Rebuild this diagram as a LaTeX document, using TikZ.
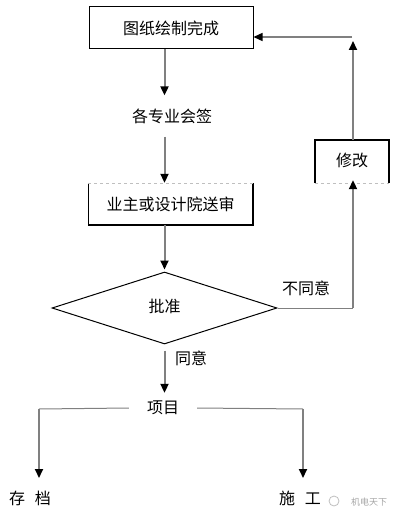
\documentclass[tikz,border=0pt]{standalone}
\usepackage{fontspec}
\setmainfont{Noto Sans CJK SC}
\usetikzlibrary{arrows.meta,shapes.geometric}
\begin{document}
\begin{tikzpicture}[x=1pt,y=-1pt,
  txt/.style={font=\fontsize{16}{19}\selectfont, inner sep=0pt},
  box/.style={txt, minimum width=164pt, minimum height=42pt},
  conn/.style={draw=black!50, line width=1pt},
  arr/.style={draw=black!50, line width=2pt, -{Triangle[length=9pt,width=8pt,color=black]}},
  harr/.style={draw=black!50, line width=1.4pt, -{Triangle[length=9pt,width=8pt,color=black]}},
  edgeline/.style={draw=black, line width=1.6pt},
  faint/.style={draw=black!25, line width=0.5pt, dashed}
]
\useasboundingbox (0,0) rectangle (400,518);
\coordinate (col) at (164.5,0);

% boxes and nodes
\node[box, draw=black, line width=1pt] (done) at (171,28) {图纸绘制完成};
\node[txt, inner ysep=13pt] (sign) at (172,116) {各专业会签};
\node[box] (review) at (170.5,204) {业主或设计院送审};
\draw[edgeline] (review.north west) -- (review.south west) -- (review.south east) -- (review.north east);
\draw[faint] (review.north west) -- (review.north east);
\node[diamond, draw=black, line width=1pt, txt, minimum width=225pt, minimum height=72pt] (approve) at (164.5,308) {\raisebox{4pt}{批准}};
\node[txt, minimum width=74pt, minimum height=43pt] (fix) at (352,161.5) {\raisebox{3pt}{修改}};
\draw[edgeline] (fix.south west) -- (fix.north west) -- (fix.north east) -- (fix.south east);
\draw[faint] (fix.south west) -- (fix.south east);
\node[txt, inner xsep=18pt, inner ysep=8pt] (proj) at (163,408) {项目};
\node[txt] (store) at (30,498) {存\hspace{0.6em}档};
\node[txt] (build) at (300,498) {施\hspace{0.6em}工};
\node[txt] at (306,288) {不同意};
\node[txt] at (191,358) {同意};

% watermark
\draw[black!25, line width=0.8pt] (334,501) circle (5pt);
\node[font=\fontsize{9}{10}\selectfont, text=black!35, inner sep=0pt] (wm) at (369,502) {机电天下};

% main flow
\draw[arr] (done.south -| col) -- (sign.north -| col);
\draw[arr] (sign.south -| col) -- (review.north -| col);
\draw[arr, shorten >=2pt] (review.south -| col) -- (approve.north);
\draw[arr, shorten <=6pt] (approve.south) -- (proj.north -| col);

% branches
\coordinate (lc) at (39,409);
\coordinate (le) at (39,478);
\coordinate (rc) at (303,409);
\coordinate (re) at (303,478);
\draw[conn] (proj.west) -- (lc);
\draw[arr] (lc) -- (le);
\draw[conn] (proj.east) -- (rc);
\draw[arr] (rc) -- (re);

% feedback loop
\coordinate (fc) at (353,308);
\coordinate (tc) at (353,41);
\coordinate (hc) at (352,37);
\draw[conn] (approve.east) -- (fc);
\draw[arr, shorten >=-3pt] (fc) -- (fix.south -| fc);
\draw[arr] (fix.north -| fc) -- (tc);
\draw[harr] (hc) -- (done.east |- hc);
\end{tikzpicture}
\end{document}
